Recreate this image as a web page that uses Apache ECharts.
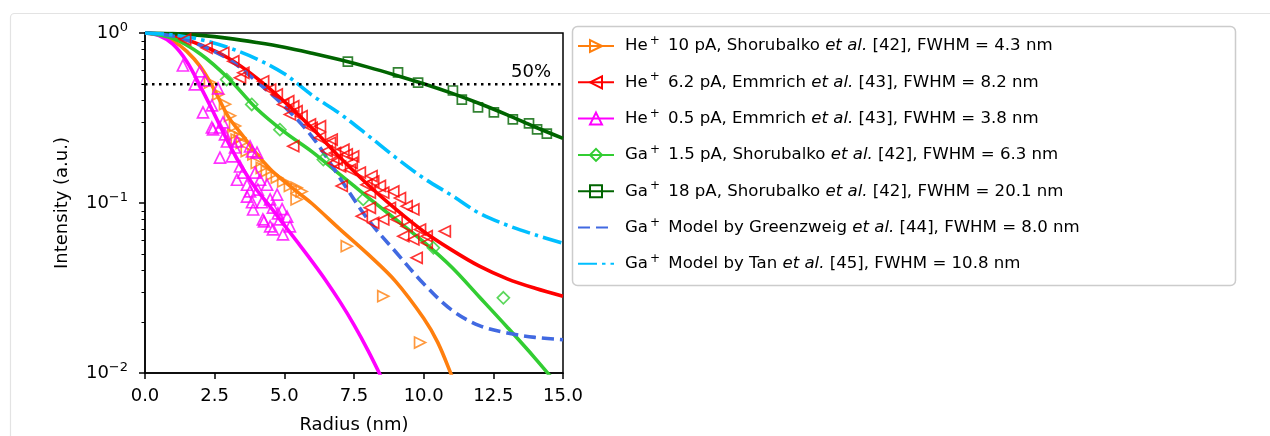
<!DOCTYPE html>
<html>
<head>
<meta charset="utf-8">
<script src="https://cdn.jsdelivr.net/npm/echarts@6/dist/echarts.min.js"></script>
<style>
  html, body { margin: 0; padding: 0; background: #fff; }
  #chart { width: 1270px; height: 436px; }
</style>
</head>
<body>
<div id="chart"></div>
<script>
// fitted curves, [radius nm, intensity]
const he10Fit = [[0,1],[0.5,0.975],[1,0.9],[1.5,0.78],[2,0.63],[2.5,0.46],[3,0.32],[3.5,0.25],[4,0.195],[4.5,0.158],[5,0.134],[5.5,0.115],[6,0.099],[7,0.07],[8,0.05],[9,0.0345],[10,0.021],[10.5,0.0152],[11,0.0097],[11.5,0.006]]
const he62Fit = [[0,1],[1,0.96],[2,0.85],[3,0.71],[4,0.545],[5,0.395],[6,0.275],[7,0.185],[8,0.128],[9,0.092],[10,0.068],[11,0.053],[12,0.0425],[13,0.0358],[14,0.0315],[15,0.0283]]
const he05Fit = [[0,1],[0.5,0.965],[1,0.86],[1.5,0.68],[2,0.48],[2.5,0.33],[3,0.225],[3.5,0.16],[4,0.12],[4.5,0.095],[5,0.074],[5.5,0.058],[6,0.0452],[6.5,0.0348],[7,0.0262],[7.5,0.0192],[8,0.0136],[8.5,0.0093],[9,0.0062]]
const ga15Fit = [[0,1],[1,0.93],[2,0.75],[3,0.54],[4,0.36],[5,0.262],[6,0.2],[7,0.147],[8,0.108],[9,0.08],[10,0.059],[11,0.042],[12,0.028],[13,0.0186],[14,0.0122],[15,0.0078]]
const ga18Fit = [[0,1],[1,0.992],[2,0.968],[3,0.93],[4,0.88],[5,0.825],[6,0.76],[7,0.695],[8,0.63],[9,0.565],[10,0.503],[11,0.443],[12,0.385],[13,0.33],[14,0.28],[15,0.24]]
const greenzweigModel = [[0,1],[1,0.96],[2,0.845],[3,0.7],[4,0.52],[5,0.37],[6,0.245],[7,0.14],[8,0.08],[9,0.0515],[10,0.0335],[11,0.0235],[12,0.019],[13,0.0172],[14,0.0162],[15,0.0157]]
const tanModel = [[0,1],[1,0.975],[2,0.915],[3,0.82],[4,0.705],[5,0.575],[6,0.43],[7,0.335],[8,0.25],[9,0.185],[10,0.14],[11,0.111],[12,0.087],[13,0.074],[14,0.065],[15,0.058]]

// measured points
const he10Pts = [[2.33,0.511],[2.63,0.436],[2.87,0.381],[3.05,0.326],[3.23,0.284],[3.41,0.243],[3.17,0.253],[3.29,0.236],[3.47,0.226],[3.65,0.202],[3.89,0.193],[4.01,0.172],[4.19,0.161],[4.37,0.154],[4.55,0.147],[4.73,0.141],[4.96,0.134],[5.2,0.126],[5.44,0.123],[5.62,0.117],[5.44,0.105],[7.24,0.0557],[8.55,0.0283],[9.87,0.0151]]
const he62Pts = [[1.44,0.916],[2.21,0.818],[2.81,0.765],[3.17,0.683],[3.53,0.583],[3.41,0.545],[4.24,0.52],[4.49,0.465],[4.73,0.435],[4.96,0.38],[5.32,0.371],[5.2,0.332],[5.62,0.324],[5.98,0.277],[5.32,0.216],[6.28,0.242],[6.64,0.226],[6.52,0.202],[6.88,0.18],[7.12,0.206],[7.06,0.126],[5.14,0.397],[5.44,0.347],[5.92,0.29],[6.28,0.283],[7.24,0.193],[7.42,0.172],[6.76,0.172],[6.7,0.236],[6.82,0.197],[7.0,0.164],[7.36,0.157],[7.71,0.151],[8.13,0.144],[8.19,0.134],[8.43,0.126],[7.95,0.128],[8.55,0.115],[8.91,0.117],[9.15,0.107],[9.39,0.0958],[9.63,0.0916],[8.79,0.0937],[8.07,0.0937],[7.78,0.0836],[8.55,0.08],[9.03,0.08],[9.39,0.073],[9.87,0.0698],[10.11,0.0638],[10.76,0.0682],[9.63,0.061],[8.07,0.115],[7.47,0.188],[8.19,0.0765],[9.75,0.0476],[9.27,0.0638],[10.11,0.0583]]
const he05Pts = [[1.36,0.644],[1.97,0.594],[2.15,0.526],[2.62,0.472],[2.08,0.341],[2.4,0.375],[2.4,0.278],[2.69,0.278],[2.87,0.253],[2.44,0.271],[2.8,0.298],[2.69,0.185],[3.12,0.188],[2.94,0.23],[3.23,0.212],[3.84,0.201],[4.02,0.198],[3.3,0.137],[3.52,0.151],[3.66,0.109],[3.84,0.101],[4.05,0.12],[4.2,0.101],[4.38,0.128],[4.49,0.105],[4.59,0.094],[4.74,0.112],[4.92,0.092],[4.23,0.08],[4.49,0.0728],[4.84,0.08],[5.1,0.083],[4.59,0.0699],[4.95,0.0653],[5.2,0.0728],[3.88,0.0916],[3.77,0.117],[4.13,0.137],[3.66,0.128],[1.79,0.498],[3.77,0.215],[3.41,0.164],[3.95,0.151],[3.3,0.23],[4.27,0.078],[4.77,0.0868]]
const ga15Pts = [[2.93,0.532],[3.83,0.38],[4.84,0.27],[6.4,0.18],[7.83,0.105],[10.35,0.0545],[12.86,0.0277]]
const ga18Pts = [[7.28,0.679],[9.08,0.586],[9.8,0.511],[11.05,0.459],[11.37,0.406],[11.95,0.365],[12.52,0.341],[13.2,0.31],[13.78,0.294],[14.07,0.271],[14.42,0.256]]

const halfLine = [[0,0.5],[15,0.5]]
const yMinorTicks = [0.02,0.03,0.04,0.05,0.06,0.07,0.08,0.09,0.2,0.3,0.4,0.5,0.6,0.7,0.8,0.9]

const FONT = 'DejaVu Sans'
const ORANGE = '#ff7f0e'
const RED = '#ff0000'
const MAGENTA = '#ff00ff'
const LIME = '#32cd32'
const DKGREEN = '#006400'
const BLUE = '#4169e1'
const CYAN = '#00bfff'

const legendText = {
  he10: '{t|He}{sup|+}{t| 10 pA, Shorubalko }{i|et al.}{t| [42], FWHM = 4.3 nm}',
  he62: '{t|He}{sup|+}{t| 6.2 pA, Emmrich }{i|et al.}{t| [43], FWHM = 8.2 nm}',
  he05: '{t|He}{sup|+}{t| 0.5 pA, Emmrich }{i|et al.}{t| [43], FWHM = 3.8 nm}',
  ga15: '{t|Ga}{sup|+}{t| 1.5 pA, Shorubalko }{i|et al.}{t| [42], FWHM = 6.3 nm}',
  ga18: '{t|Ga}{sup|+}{t| 18 pA, Shorubalko }{i|et al.}{t| [42], FWHM = 20.1 nm}',
  gz: '{t|Ga}{sup|+}{t| Model by Greenzweig }{i|et al.}{t| [44], FWHM = 8.0 nm}',
  tan: '{t|Ga}{sup|+}{t| Model by Tan }{i|et al.}{t| [45], FWHM = 10.8 nm}'
}

const fitLine = (name, data, color, symbol, rotate, size, dash) => ({
  name,
  type: 'line',
  data,
  smooth: 0.35,
  showSymbol: false,
  symbol,
  symbolRotate: rotate,
  symbolSize: size,
  lineStyle: { color, width: 3.6, type: dash || 'solid' },
  // models have no marker: keep the legend marker invisible
  itemStyle: { color: 'rgba(255,255,255,0)', borderColor: dash ? 'rgba(255,255,255,0)' : color, borderWidth: dash ? 0 : 1.7 },
  z: 2,
  silent: true
})

const pts = (name, data, color, symbol, rotate, size) => ({
  name,
  type: 'scatter',
  data,
  symbol,
  symbolRotate: rotate,
  symbolSize: size,
  itemStyle: { color: 'rgba(255,255,255,0)', borderColor: color, borderWidth: 1.7 },
  z: 3,
  silent: true
})

const chart = echarts.init(document.getElementById('chart'))

const LF = 16.6

const option = {
  animation: false,
  textStyle: { fontFamily: FONT },
  grid: {
    left: 145, top: 33, width: 418, height: 340,
    show: true, borderColor: '#000', borderWidth: 1.5,
    containLabel: false, outerBoundsMode: 'none'
  },
  xAxis: {
    type: 'value', min: 0, max: 15, interval: 2.5,
    name: 'Radius (nm)', nameLocation: 'middle', nameGap: 43,
    nameTextStyle: { fontSize: 18, color: '#000', fontFamily: FONT },
    axisLine: { lineStyle: { color: '#000', width: 1.5 } },
    axisTick: { length: 6, lineStyle: { color: '#000', width: 1.5 } },
    axisLabel: { fontSize: 18, color: '#000', margin: 14, fontFamily: FONT, formatter: v => v.toFixed(1) },
    splitLine: { show: false }
  },
  yAxis: [
    {
      type: 'log', logBase: 10, min: 0.01, max: 1,
      name: 'Intensity (a.u.)', nameLocation: 'middle', nameGap: 74,
      nameTextStyle: { fontSize: 18, color: '#000', fontFamily: FONT },
      axisLine: { lineStyle: { color: '#000', width: 1.5 } },
      axisTick: { length: 6, lineStyle: { color: '#000', width: 1.5 } },
      axisLabel: {
        margin: 17, color: '#000', fontFamily: FONT,
        formatter: v => {
          const e = Math.round(Math.log10(v))
          return '{b|10}{sup|' + (e < 0 ? '\u2212' + (-e) : e) + '}'
        },
        rich: {
          b: { fontSize: 18, fontFamily: FONT, color: '#000' },
          sup: { fontSize: 13, fontFamily: FONT, color: '#000', padding: [0, 0, 10, 0] }
        }
      },
      splitLine: { show: false }
    },
    {
      type: 'log', logBase: 10, min: 0.01, max: 1, position: 'left',
      axisLine: { show: false },
      axisLabel: { show: false },
      axisTick: { show: true, customValues: yMinorTicks, length: 3.5, lineStyle: { color: '#000', width: 1 } },
      splitLine: { show: false }
    }
  ],
  legend: {
    orient: 'vertical', left: 577, top: 35, padding: 0,
    itemWidth: 36, itemHeight: 15, itemGap: 14.3,
    data: ['he10', 'he62', 'he05', 'ga15', 'ga18', 'gz', 'tan'],
    formatter: n => legendText[n],
    textStyle: {
      fontSize: LF, color: '#000', fontFamily: FONT, lineHeight: 22, padding: [0, 0, 0, 6],
      rich: {
        t: { fontSize: LF, fontFamily: FONT, color: '#000' },
        i: { fontSize: LF, fontFamily: FONT, color: '#000', fontStyle: 'italic' },
        sup: { fontSize: 12, fontFamily: FONT, color: '#000', padding: [0, 3, 10, 2] }
      }
    },
    z: 10
  },
  graphic: [
    { type: 'rect', z: -10, shape: { x: 10.5, y: 13.5, width: 1400, height: 600, r: 4 }, style: { fill: 'none', stroke: '#e3e3e3', lineWidth: 1.2 }, silent: true },
    { type: 'rect', z: 1, shape: { x: 572.5, y: 26.5, width: 663, height: 259, r: 5 }, style: { fill: '#fff', stroke: '#cccccc', lineWidth: 1.5 }, silent: true }
  ],
  series: [
    fitLine('he10', he10Fit, ORANGE, 'triangle', -90, 11),
    fitLine('he62', he62Fit, RED, 'triangle', 90, 11),
    fitLine('he05', he05Fit, MAGENTA, 'triangle', 0, 11),
    fitLine('ga15', ga15Fit, LIME, 'diamond', 0, 12),
    fitLine('ga18', ga18Fit, DKGREEN, 'rect', 0, 9),
    fitLine('gz', greenzweigModel, BLUE, 'circle', 0, 1, [12, 6]),
    fitLine('tan', tanModel, CYAN, 'circle', 0, 1, [19, 5, 3.5, 5]),
    pts('he10 data', he10Pts, ORANGE, 'triangle', -90, 11),
    pts('he62 data', he62Pts, RED, 'triangle', 90, 11),
    pts('he05 data', he05Pts, MAGENTA, 'triangle', 0, 11),
    pts('ga15 data', ga15Pts, LIME, 'diamond', 0, 12),
    pts('ga18 data', ga18Pts, DKGREEN, 'rect', 0, 9),
    {
      name: 'half', type: 'line', data: halfLine, showSymbol: false, symbol: 'none', z: 4, silent: true,
      lineStyle: { color: '#000', width: 2.5, type: [2.5, 4.5] },
      endLabel: { show: true, formatter: '50%', fontSize: 18, color: '#000', fontFamily: FONT, offset: [-60, -12] }
    }
  ]
}

chart.setOption(option)
</script>
</body>
</html>
